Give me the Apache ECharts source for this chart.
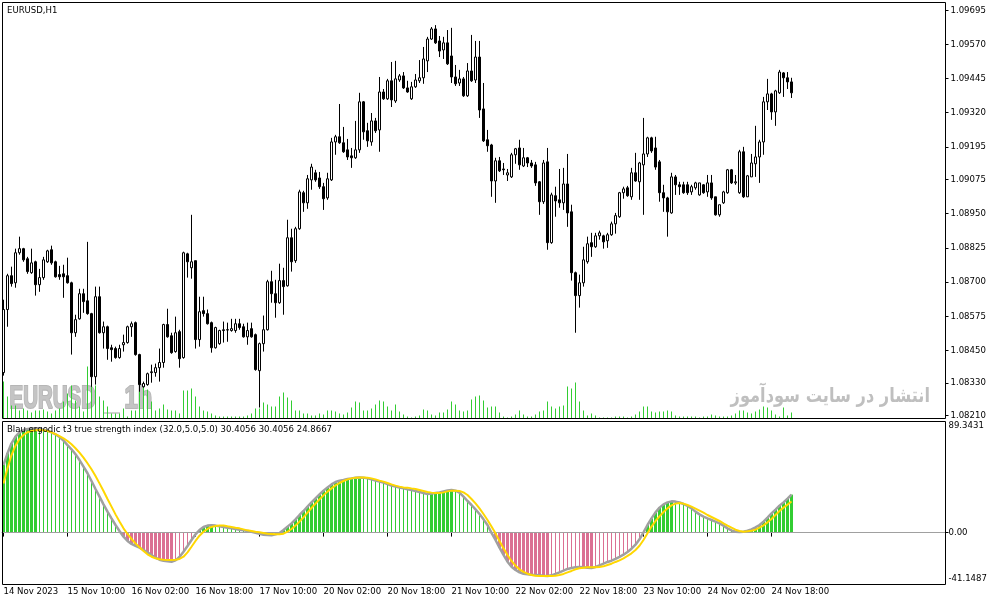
<!DOCTYPE html>
<html><head><meta charset="utf-8">
<script src="https://cdn.jsdelivr.net/npm/echarts@6/dist/echarts.min.js"></script>
<style>html,body{margin:0;padding:0;background:#fff}#c{width:991px;height:605px}</style>
</head><body><div id="c"></div>
<script>
// [open, close, low, high]
const ohlc = [
[1.08368,1.08599,1.08357,1.08635],[1.08599,1.08723,1.08536,1.08730],[1.08723,1.08694,1.08683,1.08756],[1.08697,1.08807,1.08679,1.08822],
[1.08807,1.08822,1.08800,1.08866],[1.08822,1.08781,1.08774,1.08825],[1.08785,1.08738,1.08730,1.08792],[1.08734,1.08770,1.08730,1.08822],
[1.08774,1.08690,1.08650,1.08778],[1.08690,1.08716,1.08664,1.08748],[1.08716,1.08781,1.08708,1.08792],[1.08774,1.08814,1.08770,1.08818],
[1.08818,1.08770,1.08763,1.08833],[1.08774,1.08719,1.08716,1.08778],[1.08727,1.08719,1.08708,1.08759],[1.08730,1.08719,1.08642,1.08763],
[1.08723,1.08697,1.08694,1.08789],[1.08697,1.08514,1.08434,1.08701],[1.08514,1.08562,1.08499,1.08580],[1.08565,1.08657,1.08562,1.08675],
[1.08657,1.08628,1.08587,1.08675],[1.08631,1.08584,1.08580,1.08847],[1.08584,1.08353,1.08316,1.08587],[1.08353,1.08646,1.08324,1.08683],
[1.08646,1.08514,1.08511,1.08683],[1.08514,1.08536,1.08456,1.08555],[1.08536,1.08456,1.08415,1.08540],[1.08459,1.08452,1.08408,1.08470],
[1.08456,1.08423,1.08419,1.08463],[1.08423,1.08456,1.08419,1.08470],[1.08470,1.08478,1.08445,1.08507],[1.08478,1.08536,1.08474,1.08540],
[1.08536,1.08547,1.08499,1.08555],[1.08551,1.08434,1.08430,1.08555],[1.08434,1.08324,1.08298,1.08437],[1.08316,1.08328,1.08313,1.08335],
[1.08324,1.08364,1.08320,1.08368],[1.08368,1.08371,1.08331,1.08397],[1.08368,1.08386,1.08353,1.08401],[1.08386,1.08405,1.08335,1.08456],
[1.08405,1.08544,1.08386,1.08547],[1.08544,1.08499,1.08496,1.08602],[1.08503,1.08441,1.08437,1.08514],[1.08445,1.08514,1.08441,1.08573],
[1.08518,1.08419,1.08386,1.08525],[1.08423,1.08807,1.08419,1.08811],[1.08803,1.08774,1.08716,1.08807],[1.08752,1.08774,1.08712,1.08946],
[1.08778,1.08489,1.08456,1.08778],[1.08489,1.08591,1.08463,1.08646],[1.08595,1.08584,1.08573,1.08646],[1.08584,1.08547,1.08544,1.08599],
[1.08551,1.08459,1.08441,1.08555],[1.08459,1.08533,1.08456,1.08536],[1.08474,1.08522,1.08470,1.08525],[1.08522,1.08525,1.08478,1.08555],
[1.08525,1.08524,1.08481,1.08551],[1.08522,1.08529,1.08518,1.08565],[1.08522,1.08547,1.08514,1.08565],[1.08547,1.08533,1.08525,1.08565],
[1.08536,1.08499,1.08496,1.08547],[1.08499,1.08522,1.08470,1.08551],[1.08529,1.08499,1.08496,1.08551],[1.08507,1.08379,1.08375,1.08511],
[1.08375,1.08474,1.08240,1.08478],[1.08474,1.08525,1.08445,1.08577],[1.08525,1.08701,1.08522,1.08708],[1.08701,1.08657,1.08624,1.08741],
[1.08657,1.08624,1.08569,1.08708],[1.08624,1.08705,1.08620,1.08767],[1.08705,1.08683,1.08580,1.08752],[1.08686,1.08862,1.08683,1.08928],
[1.08862,1.08774,1.08738,1.08895],[1.08778,1.08895,1.08770,1.08902],[1.08895,1.09030,1.08891,1.09038],[1.09027,1.08990,1.08957,1.09034],
[1.08990,1.09078,1.08968,1.09092],[1.09074,1.09121,1.09038,1.09133],[1.09100,1.09074,1.09067,1.09111],[1.09081,1.09049,1.09041,1.09103],
[1.09049,1.09005,1.08964,1.09063],[1.09008,1.09078,1.09001,1.09100],[1.09074,1.09213,1.09070,1.09228],[1.09213,1.09232,1.09166,1.09239],
[1.09232,1.09210,1.09206,1.09352],[1.09210,1.09177,1.09173,1.09268],[1.09184,1.09158,1.09147,1.09224],[1.09162,1.09155,1.09118,1.09191],
[1.09155,1.09184,1.09151,1.09290],[1.09184,1.09360,1.09173,1.09393],[1.09360,1.09250,1.09221,1.09363],[1.09254,1.09217,1.09195,1.09283],
[1.09213,1.09290,1.09199,1.09319],[1.09290,1.09254,1.09246,1.09301],[1.09257,1.09396,1.09177,1.09451],[1.09396,1.09371,1.09367,1.09407],
[1.09371,1.09437,1.09367,1.09444],[1.09437,1.09367,1.09341,1.09506],[1.09363,1.09444,1.09356,1.09510],[1.09440,1.09455,1.09433,1.09462],
[1.09455,1.09411,1.09407,1.09469],[1.09411,1.09396,1.09393,1.09437],[1.09371,1.09415,1.09367,1.09433],[1.09415,1.09440,1.09411,1.09462],
[1.09437,1.09448,1.09429,1.09513],[1.09448,1.09517,1.09426,1.09561],[1.09510,1.09590,1.09469,1.09598],[1.09590,1.09627,1.09587,1.09634],
[1.09627,1.09576,1.09572,1.09641],[1.09583,1.09546,1.09524,1.09601],[1.09550,1.09576,1.09517,1.09598],[1.09576,1.09499,1.09495,1.09623],
[1.09528,1.09451,1.09429,1.09631],[1.09451,1.09426,1.09418,1.09495],[1.09429,1.09444,1.09418,1.09477],[1.09444,1.09382,1.09378,1.09451],
[1.09382,1.09473,1.09378,1.09502],[1.09473,1.09437,1.09433,1.09605],[1.09440,1.09524,1.09429,1.09583],[1.09524,1.09330,1.09301,1.09583],
[1.09334,1.09217,1.09213,1.09429],[1.09221,1.09199,1.09177,1.09257],[1.09202,1.09070,1.09012,1.09206],[1.09070,1.09144,1.08990,1.09155],
[1.09144,1.09107,1.09103,1.09158],[1.09114,1.09111,1.09092,1.09136],[1.09092,1.09100,1.09070,1.09114],[1.09085,1.09166,1.09081,1.09173],
[1.09166,1.09188,1.09133,1.09191],[1.09191,1.09129,1.09111,1.09221],[1.09125,1.09155,1.09121,1.09191],[1.09155,1.09136,1.09121,1.09158],
[1.09136,1.09125,1.09118,1.09147],[1.09129,1.09063,1.09052,1.09140],[1.09067,1.08994,1.08946,1.09070],[1.08994,1.09136,1.08986,1.09147],
[1.09140,1.08844,1.08818,1.09191],[1.08844,1.09019,1.08840,1.09027],[1.09016,1.08997,1.08939,1.09049],[1.09001,1.08990,1.08972,1.09114],
[1.08990,1.09059,1.08964,1.09118],[1.09059,1.08953,1.08902,1.09169],[1.08957,1.08734,1.08705,1.08983],[1.08734,1.08650,1.08514,1.08738],
[1.08650,1.08697,1.08606,1.08727],[1.08697,1.08781,1.08683,1.08829],[1.08774,1.08840,1.08767,1.08866],[1.08844,1.08829,1.08792,1.08880],
[1.08829,1.08869,1.08825,1.08880],[1.08869,1.08880,1.08855,1.08888],[1.08869,1.08847,1.08822,1.08873],[1.08851,1.08873,1.08825,1.08880],
[1.08873,1.08913,1.08869,1.08921],[1.08913,1.08943,1.08877,1.08953],[1.08939,1.09027,1.08935,1.09030],[1.09027,1.09041,1.09005,1.09049],
[1.09045,1.09016,1.09012,1.09052],[1.09012,1.09100,1.09001,1.09118],[1.09100,1.09070,1.09067,1.09173],[1.09067,1.09136,1.09001,1.09140],
[1.09129,1.09169,1.08946,1.09301],[1.09169,1.09228,1.09158,1.09232],[1.09228,1.09180,1.09173,1.09232],[1.09191,1.09121,1.09111,1.09232],
[1.09140,1.09027,1.08994,1.09147],[1.09027,1.09008,1.08957,1.09056],[1.09008,1.08957,1.08866,1.09012],[1.08953,1.09085,1.08950,1.09100],
[1.09085,1.09056,1.09019,1.09092],[1.09056,1.09049,1.09019,1.09067],[1.09056,1.09027,1.09023,1.09067],[1.09056,1.09027,1.09019,1.09067],
[1.09030,1.09049,1.09019,1.09056],[1.09045,1.09063,1.09038,1.09067],[1.09019,1.09063,1.09016,1.09063],[1.09056,1.09027,1.09023,1.09059],
[1.09030,1.09063,1.09012,1.09092],[1.09063,1.09008,1.09001,1.09092],[1.09012,1.08946,1.08943,1.09012],[1.08946,1.08983,1.08939,1.08983],
[1.08990,1.09030,1.08986,1.09034],[1.09027,1.09111,1.09023,1.09114],[1.09111,1.09063,1.09059,1.09114],[1.09063,1.09067,1.09056,1.09092],
[1.09027,1.09177,1.09023,1.09184],[1.09177,1.09012,1.09008,1.09195],[1.09012,1.09089,1.09012,1.09092],[1.09085,1.09136,1.09085,1.09169],
[1.09133,1.09158,1.09085,1.09272],[1.09158,1.09213,1.09063,1.09221],[1.09213,1.09360,1.09166,1.09378],[1.09360,1.09389,1.09330,1.09444],
[1.09389,1.09323,1.09294,1.09393],[1.09323,1.09400,1.09272,1.09404],[1.09393,1.09469,1.09389,1.09477],[1.09466,1.09448,1.09378,1.09469],
[1.09448,1.09433,1.09407,1.09469],[1.09433,1.09393,1.09374,1.09448]
];
const volumes = [
37,22,13,13,8,10,8,6,8,8,9,7,5,8,10,17,25,33,18,12,7,52,34,33,22,18,12,5,5,5,10,2,8,8,34,32,29,17,8,10,
14,9,8,8,5,28,28,30,22,12,8,7,5,3,2,2,2,2,2,2,2,3,5,10,10,16,14,12,12,22,26,21,18,8,8,5,5,3,3,5,4,8,
8,7,5,4,6,11,17,16,8,8,10,14,18,17,12,8,14,7,4,2,1,2,3,9,8,4,3,6,6,9,17,14,8,7,8,19,22,23,18,11,
12,12,6,2,1,2,4,8,4,2,2,4,7,8,17,12,10,12,13,32,30,36,17,8,3,5,3,1,1,1,1,2,2,2,1,2,4,7,12,12,7,6,7,
7,8,7,3,2,2,2,2,2,1,2,2,4,3,2,2,2,3,5,8,8,6,5,7,9,12,11,8,4,2,11,3,6
];
const tsi = [
54.1,63.5,71.5,76.8,80.3,82.1,82.9,83.3,83.6,82.9,82.4,81.6,80.3,78.7,76.5,73.6,70.1,66.7,62.7,58.1,
52.8,47.5,41.3,34.9,28.8,22.6,16.8,11.4,6.1,1.3,-3.3,-6.7,-9.1,-10.7,-12.1,-13.9,-15.8,-17.9,-20.1,-21.7,
-22.5,-23.0,-23.3,-22.2,-19.5,-15.3,-10.7,-5.9,-1.4,2.1,4.5,5.6,5.8,5.6,5.0,4.5,3.9,3.4,2.9,2.3,
1.8,1.3,0.7,-0.1,-0.9,-1.7,-1.9,-2.2,-1.4,-0.3,2.1,4.8,7.4,10.6,14.1,17.3,20.8,24.2,27.4,30.6,
33.6,36.2,38.6,40.5,41.6,42.1,42.9,43.4,44.0,44.2,44.0,43.4,42.6,41.6,40.8,40.0,38.9,37.6,36.8,36.0,
35.4,34.6,34.1,33.3,32.5,31.7,30.9,31.2,31.7,32.2,33.0,33.8,34.1,33.6,32.0,28.8,25.3,22.1,18.6,14.9,
10.6,6.1,-0.2,-5.9,-12.1,-17.9,-23.3,-27.3,-29.9,-31.8,-32.9,-33.4,-33.7,-33.9,-34.2,-34.5,-34.7,-34.2,-33.1,-31.8,
-30.5,-29.1,-28.3,-27.8,-27.5,-27.8,-28.1,-28.3,-27.5,-26.2,-24.9,-23.5,-22.5,-21.1,-19.5,-17.7,-15.5,-12.9,-9.7,-5.4,
0.2,6.1,11.4,16.2,20.0,22.6,24.2,25.0,24.8,24.2,22.9,21.3,19.4,16.8,14.6,12.8,11.4,10.1,8.8,7.4,
5.6,3.4,1.8,0.7,0.5,0.7,1.5,2.6,4.2,6.1,8.8,12.0,15.4,18.4,21.6,24.2,27.2,30.4056
];
const signal = [
39.4,51.5,62.1,69.6,74.9,78.1,80.3,81.3,81.9,82.1,81.9,81.3,80.3,78.9,77.3,75.5,73.3,70.7,67.5,64.0,
60.0,55.5,50.7,45.3,39.4,33.3,26.9,20.8,14.6,8.8,3.4,-1.1,-5.1,-8.6,-11.8,-14.7,-17.4,-19.3,-20.6,-21.4,
-21.7,-21.9,-21.9,-21.7,-21.1,-19.3,-15.8,-11.3,-6.7,-2.5,0.7,2.9,4.5,5.3,5.6,5.6,5.0,4.5,3.9,3.4,
2.6,1.8,1.3,0.7,0.2,-0.3,-0.9,-1.1,-1.4,-1.4,-0.9,0.7,2.9,5.6,8.8,12.2,16.0,19.7,23.2,26.6,
29.8,32.8,35.4,37.8,39.7,41.3,42.6,43.4,44.0,44.2,44.2,44.0,43.4,42.6,41.6,40.8,39.7,38.6,37.6,36.8,
36.2,36.0,35.4,34.9,34.1,33.3,32.5,32.0,31.7,31.7,32.2,33.0,33.6,33.6,33.3,32.2,30.1,26.9,23.4,19.4,
14.9,10.1,4.8,-0.6,-6.7,-12.6,-17.9,-22.7,-26.5,-29.4,-31.5,-32.9,-33.9,-34.5,-34.7,-34.7,-34.7,-34.7,-34.5,-33.9,
-33.1,-31.8,-30.7,-29.4,-28.6,-28.1,-27.8,-27.8,-27.8,-27.5,-27.0,-25.9,-24.9,-23.5,-22.2,-20.6,-18.7,-16.6,-13.9,-10.5,
-5.9,-0.6,4.8,9.3,13.0,16.5,19.4,21.8,23.2,23.7,23.2,22.1,20.8,19.2,17.6,16.0,14.1,12.5,10.9,9.3,
7.4,5.6,3.9,2.3,1.3,0.7,1.0,1.5,2.3,3.9,5.8,8.2,10.9,14.1,17.3,20.0,22.4,24.8667
];
const tickLabels = ['14 Nov 2023','15 Nov 10:00','16 Nov 02:00','16 Nov 18:00','17 Nov 10:00','20 Nov 02:00','20 Nov 18:00',
  '21 Nov 10:00','22 Nov 02:00','22 Nov 18:00','23 Nov 10:00','24 Nov 02:00','24 Nov 18:00'];
const priceTicks = [1.08210,1.08330,1.08450,1.08575,1.08700,1.08825,1.08950,1.09075,1.09195,1.09320,1.09445,1.09570,1.09695];
const indTicks = [-41.1487, 0, 89.3431];

// hourly time slots (weekends skipped), including empty right margin
const SLOTS = 236;
const months = ['Jan','Feb','Mar','Apr','May','Jun','Jul','Aug','Sep','Oct','Nov','Dec'];
const categories = [];
for (let t = Date.UTC(2023,10,14,18); categories.length < SLOTS; t += 3600000) {
  const d = new Date(t), wd = d.getUTCDay();
  if (wd === 0 || wd === 6) continue;
  categories.push(d.getUTCDate() + ' ' + months[d.getUTCMonth()] + ' ' + String(d.getUTCHours()).padStart(2,'0') + ':00');
}

const GREEN = '#32CD32', PINK = '#DB7093';
const thinData = [], thickData = [];
tsi.forEach((v, i) => {
  const prev = i > 0 ? tsi[i-1] : (v >= 0 ? -Infinity : Infinity);
  const thick = v >= 0 ? v > prev : v < prev;
  const item = { value: v, itemStyle: { color: v >= 0 ? GREEN : PINK } };
  thickData.push(thick ? item : '-');
  thinData.push(thick ? '-' : item);
});

const FONT = '"DejaVu Sans Condensed", "DejaVu Sans", sans-serif';
const FS = 9.5;
const L = 1.5, W = 944;
const everyTick = (idx) => idx % 16 === 0 && idx < ohlc.length;
const hiddenX = (g) => ({ type: 'category', gridIndex: g, data: categories, boundaryGap: true, show: false });

const title = 'Blau ergodic t3 true strength index (32.0,5.0,5.0) ' + tsi[tsi.length-1].toFixed(4) + ' ' +
  tsi[tsi.length-1].toFixed(4) + ' ' + signal[signal.length-1].toFixed(4);

const WM = '#c4c4c4', WMS = '#b6b6b6';
const chart = echarts.init(document.getElementById('c'), null, { renderer: 'canvas' });
chart.setOption({
  animation: false,
  backgroundColor: '#fff',
  grid: [
    { left: L, top: 3, width: W, height: 416, show: false },
    { left: L, top: 318.5, width: W, height: 100, show: false },
    { left: L, top: 421, width: W, height: 163, show: false }
  ],
  xAxis: [
    hiddenX(0), hiddenX(1),
    { type: 'category', gridIndex: 2, data: categories, boundaryGap: true,
      axisLine: { show: false },
      axisTick: { show: true, interval: everyTick, alignWithLabel: true, length: 4, lineStyle: { color: '#000', width: 1 } },
      axisLabel: { show: true, interval: everyTick, align: 'left', margin: 3, color: '#000', fontSize: FS, fontFamily: FONT,
        formatter: (val, idx) => (idx % 16 === 0 && tickLabels[idx/16]) ? tickLabels[idx/16] : '' },
      splitLine: { show: false } },
    hiddenX(2)
  ],
  yAxis: [
    { type: 'value', gridIndex: 0, position: 'right', min: 1.08198, max: 1.09722,
      axisLine: { show: false }, splitLine: { show: false },
      axisTick: { show: true, length: 3, customValues: priceTicks, lineStyle: { color: '#000' } },
      axisLabel: { show: true, customValues: priceTicks, margin: 5, color: '#000', fontSize: FS, fontFamily: FONT,
        formatter: (v) => v.toFixed(5) } },
    { type: 'value', gridIndex: 1, min: 0, max: 100, show: false },
    { type: 'value', gridIndex: 2, position: 'right', min: -41.1487, max: 89.3431,
      axisLine: { show: false }, splitLine: { show: false },
      axisTick: { show: true, length: 3, customValues: [0], lineStyle: { color: '#000' } },
      axisLabel: { show: true, customValues: indTicks, margin: 3, color: '#000', fontSize: FS, fontFamily: FONT,
        verticalAlignMinLabel: 'bottom', verticalAlignMaxLabel: 'top',
        formatter: (v) => v === 0 ? '0.00' : v.toFixed(4) } }
  ],
  graphic: [
    { type: 'text', x: 9.5, y: 399, scaleX: 0.64, z: -10, silent: true,
      style: { text: 'EURUSD', font: 'bold 32px "Liberation Sans", Arial, sans-serif', fill: WM, stroke: WMS, lineWidth: 2.2, textVerticalAlign: 'middle' } },
    { type: 'line', z: -10, silent: true, shape: { x1: 103, y1: 413, x2: 120, y2: 413 }, style: { stroke: '#c2c2c2', lineWidth: 1.5 } },
    { type: 'text', x: 124.5, y: 399, scaleX: 0.74, z: -10, silent: true,
      style: { text: '1h', font: 'bold 32px "Liberation Sans", Arial, sans-serif', fill: WM, stroke: WMS, lineWidth: 2.2, textVerticalAlign: 'middle' } },
    { type: 'text', x: 930, y: 397, scaleX: 0.81, z: -10, silent: true,
      style: { text: 'انتشار در سایت سودآموز', font: 'bold 20px "DejaVu Sans", sans-serif', fill: '#bfbfbf', textAlign: 'right', textVerticalAlign: 'middle' } },
    { type: 'text', x: 7, y: 10.5, silent: true,
      style: { text: 'EURUSD,H1', font: FS + 'px ' + FONT, fill: '#000', textVerticalAlign: 'middle' } },
    { type: 'text', x: 7, y: 430, z: 50, silent: true,
      style: { text: title, font: FS + 'px ' + FONT, fill: '#000', textVerticalAlign: 'middle' } },
    { type: 'rect', z: 60, silent: true, shape: { x: 2.5, y: 2.5, width: 943, height: 416 }, style: { fill: 'none', stroke: '#000', lineWidth: 1 } },
    { type: 'rect', z: 60, silent: true, shape: { x: 2.5, y: 421.5, width: 943, height: 163 }, style: { fill: 'none', stroke: '#000', lineWidth: 1 } }
  ],
  series: [
    { type: 'bar', name: 'volume', xAxisIndex: 1, yAxisIndex: 1, data: volumes, barWidth: 1,
      itemStyle: { color: GREEN }, silent: true, z: 1 },
    { type: 'candlestick', name: 'EURUSD', xAxisIndex: 0, yAxisIndex: 0, data: ohlc, barWidth: 3,
      itemStyle: { color: '#fff', color0: '#000', borderColor: '#000', borderColor0: '#000', borderWidth: 1 }, silent: true, z: 3 },
    { type: 'bar', name: 'hist thin', xAxisIndex: 2, yAxisIndex: 2, data: thinData, barWidth: 1, silent: true, z: 2,
      markLine: { silent: true, symbol: ['none','none'], label: { show: false },
        lineStyle: { color: '#a0a0a0', width: 1, type: 'solid' }, data: [{ yAxis: 0 }] } },
    { type: 'bar', name: 'hist thick', xAxisIndex: 3, yAxisIndex: 2, data: thickData, barWidth: 3, silent: true, z: 2 },
    { type: 'line', name: 'TSI', xAxisIndex: 2, yAxisIndex: 2, data: tsi, symbol: 'none', silent: true, z: 4,
      lineStyle: { color: '#a0a0a0', width: 2.5 } },
    { type: 'line', name: 'Signal', xAxisIndex: 2, yAxisIndex: 2, data: signal, symbol: 'none', silent: true, z: 5,
      lineStyle: { color: '#FFD700', width: 2 } }
  ]
});
</script>
</body></html>
